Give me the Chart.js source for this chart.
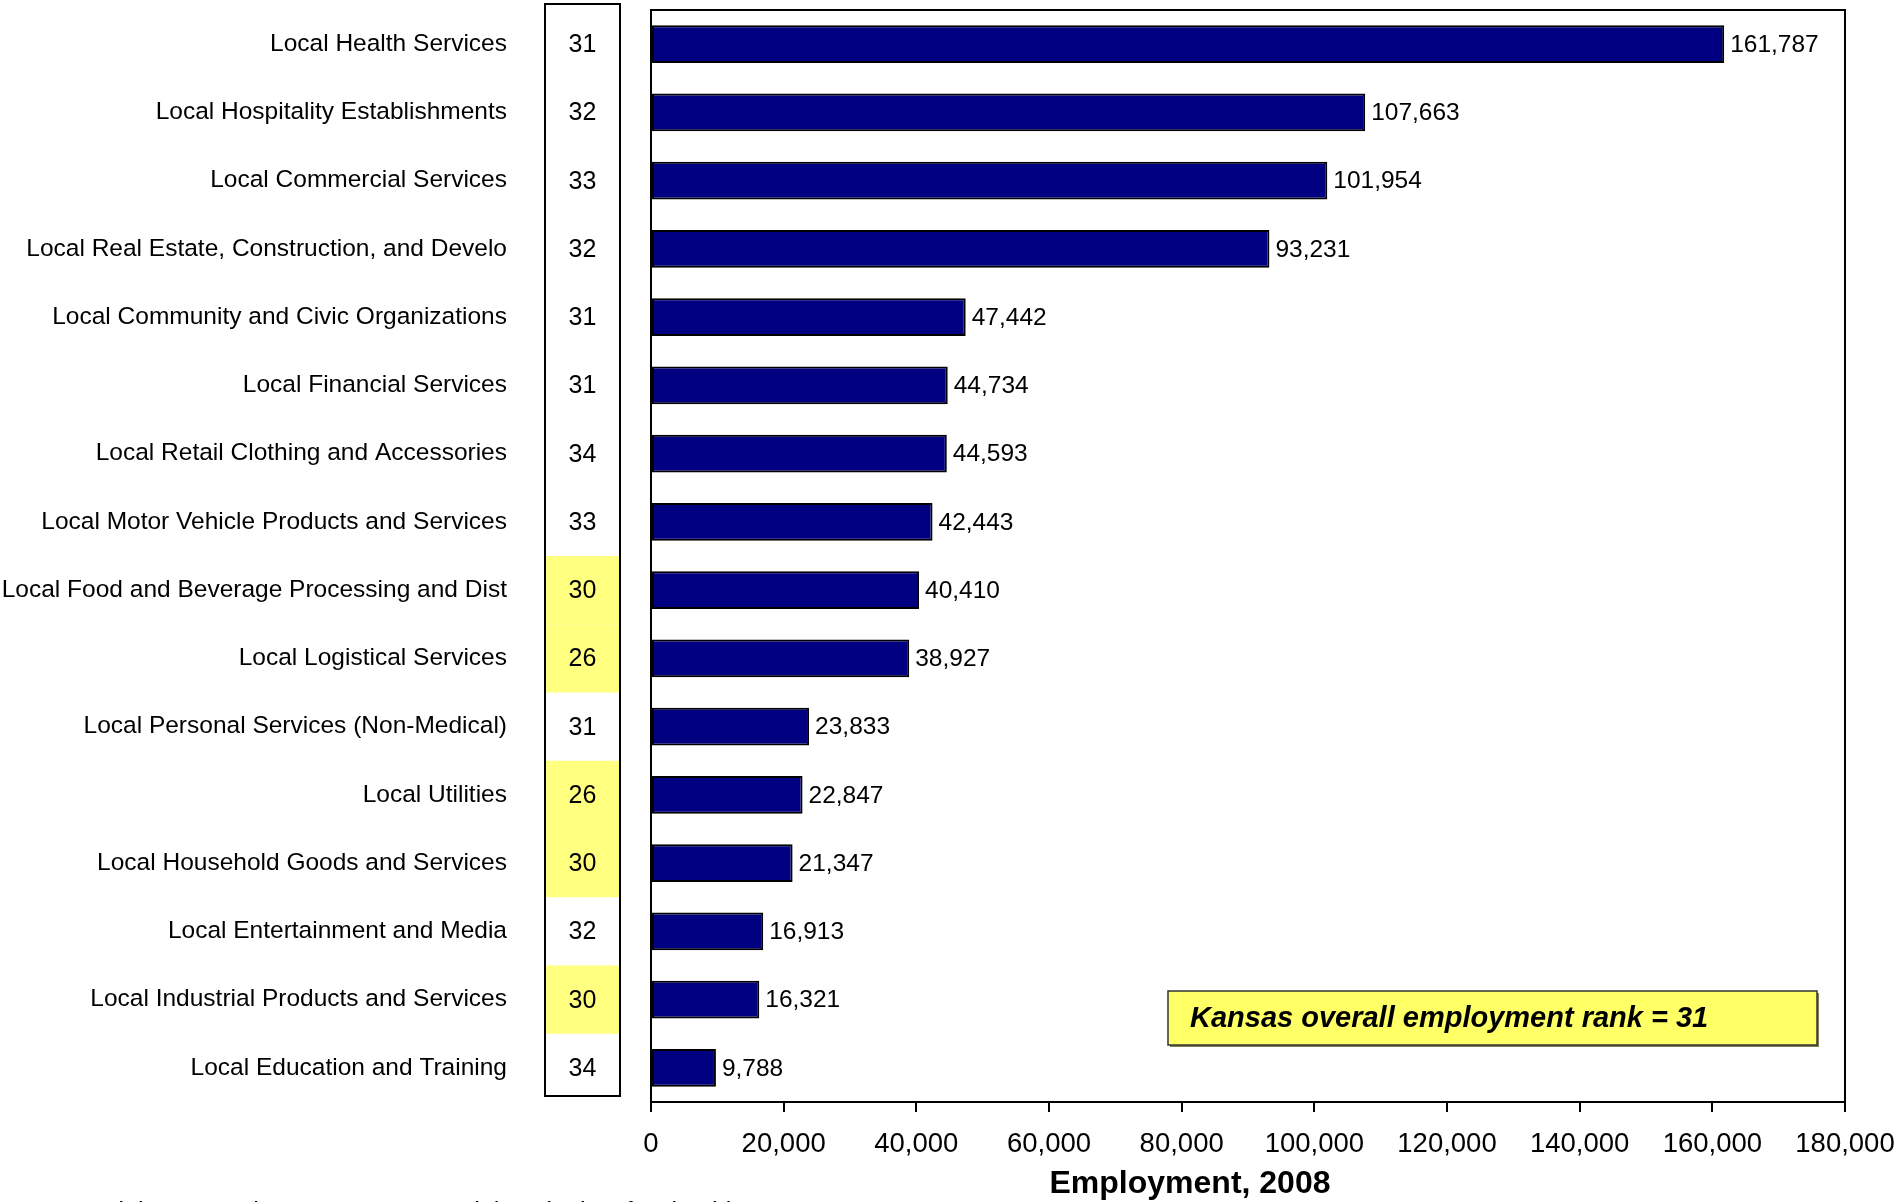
<!DOCTYPE html>
<html>
<head>
<meta charset="utf-8">
<title>Kansas local cluster employment, 2008</title>
<script src="https://cdn.jsdelivr.net/npm/chart.js@4.4.1/dist/chart.umd.min.js"></script>
<style>
  html, body { margin: 0; padding: 0; background: #fff; }
  #wrap { width: 1899px; height: 1202px; }
</style>
</head>
<body>
<div id="wrap"><canvas id="EmploymentChart"></canvas></div>
<script>
const categories = [
    'Local Health Services',
    'Local Hospitality Establishments',
    'Local Commercial Services',
    'Local Real Estate, Construction, and Develo',
    'Local Community and Civic Organizations',
    'Local Financial Services',
    'Local Retail Clothing and Accessories',
    'Local Motor Vehicle Products and Services',
    'Local Food and Beverage Processing and Dist',
    'Local Logistical Services',
    'Local Personal Services (Non-Medical)',
    'Local Utilities',
    'Local Household Goods and Services',
    'Local Entertainment and Media',
    'Local Industrial Products and Services',
    'Local Education and Training'
];
const employment = [161787, 107663, 101954, 93231, 47442, 44734, 44593, 42443,
    40410, 38927, 23833, 22847, 21347, 16913, 16321, 9788];
const ranks = [31, 32, 33, 32, 31, 31, 34, 33, 30, 26, 31, 26, 30, 32, 30, 34];
// rows whose rank cell is shaded yellow
const highlighted = [8, 9, 11, 12, 14];
const overallRank = 31;

const FONT = '"Liberation Sans", Arial, sans-serif';
const fmt = v => v.toLocaleString('en-US');

// rank column, plot border, value labels, notes
const extrasPlugin = {
    id: 'extras',
    afterDatasetsDraw(chart) {
        const ctx = chart.ctx;
        const area = chart.chartArea;
        const y = chart.scales.y;
        const x = chart.scales.x;
        const rowH = y.getPixelForValue(1) - y.getPixelForValue(0);

        ctx.save();
        // plot frame (top + right)
        ctx.strokeStyle = '#000';
        ctx.lineWidth = 2;
        ctx.strokeRect(area.left, area.top, area.right - area.left, area.bottom - area.top);

        // value labels
        ctx.fillStyle = '#000';
        ctx.font = '24.5px ' + FONT;
        ctx.textAlign = 'left';
        ctx.textBaseline = 'middle';
        employment.forEach((v, i) => {
            ctx.fillText(fmt(v), x.getPixelForValue(v) + 6, y.getPixelForValue(i) + 1);
        });

        // rank column
        const colL = 545, colR = 620;
        const colT = area.top - 6, colB = area.bottom - 6;
        ctx.fillStyle = '#ffff80';
        highlighted.forEach(i => {
            const c = y.getPixelForValue(i);
            ctx.fillRect(colL, c - rowH / 2, colR - colL, rowH);
        });
        ctx.strokeStyle = '#000';
        ctx.lineWidth = 2;
        ctx.strokeRect(colL, colT, colR - colL, colB - colT);
        ctx.fillStyle = '#000';
        ctx.font = '25px ' + FONT;
        ctx.textAlign = 'center';
        ranks.forEach((r, i) => {
            ctx.fillText(String(r), (colL + colR) / 2, y.getPixelForValue(i) + 1);
        });

        // overall rank box
        const bx = 1168, by = 991, bw = 649, bh = 54;
        ctx.fillStyle = '#7f7f55';
        ctx.fillRect(bx + 2, by + 2, bw, bh);
        ctx.fillStyle = '#ffff66';
        ctx.fillRect(bx, by, bw, bh);
        ctx.strokeStyle = '#333';
        ctx.lineWidth = 1.5;
        ctx.strokeRect(bx, by, bw, bh);
        ctx.fillStyle = '#000';
        ctx.font = 'italic bold 29px ' + FONT;
        ctx.textAlign = 'left';
        ctx.fillText('Kansas overall employment rank = ' + overallRank, bx + 22, by + bh / 2 + 1);

        // axis title
        ctx.font = 'bold 32px ' + FONT;
        ctx.textAlign = 'center';
        ctx.fillText('Employment, 2008', 1190, 1184);

        // footnote (cut off by the bottom edge)
        ctx.font = '25px ' + FONT;
        ctx.textAlign = 'left';
        ctx.textBaseline = 'alphabetic';
        ctx.fillText('Note: Rank is among the 50 US states and the District of Columbia', 6, 1220);
        ctx.restore();
    }
};

const ctxEmployment = document.getElementById('EmploymentChart');
const dataEmployment = {
    labels: categories,
    datasets: [{
        label: 'Employment, 2008',
        data: employment,
        backgroundColor: '#000080',
        borderColor: '#000',
        borderWidth: 2,
        borderSkipped: false,
        barPercentage: 0.555,
        categoryPercentage: 1
    }]
};
const configEmployment = {
    type: 'bar',
    data: dataEmployment,
    options: {
        indexAxis: 'y',
        responsive: true,
        maintainAspectRatio: false,
        animation: false,
        layout: { padding: { top: 10, right: 54, bottom: 0, left: 0 } },
        plugins: {
            legend: { display: false },
            tooltip: { enabled: false }
        },
        scales: {
            x: {
                min: 0,
                max: 180000,
                ticks: {
                    stepSize: 20000,
                    color: '#000',
                    font: { family: FONT, size: 27.5 },
                    padding: 16,
                    maxRotation: 0,
                    callback: v => fmt(v)
                },
                grid: {
                    drawOnChartArea: false,
                    drawTicks: true,
                    tickLength: 10,
                    color: '#000',
                    lineWidth: 2
                },
                border: { display: true, color: '#000', width: 2 },
                afterFit(scale) {
                    scale.height = 100;
                    scale.paddingRight = 0;
                }
            },
            y: {
                ticks: {
                    autoSkip: false,
                    color: '#000',
                    font: { family: FONT, size: 24.5 },
                    padding: 144
                },
                grid: { display: false, drawTicks: false },
                border: { display: true, color: '#000', width: 2 },
                afterFit(scale) {
                    scale.width = 651;
                    scale.paddingTop = 0;
                    scale.paddingBottom = 0;
                }
            }
        }
    },
    plugins: [extrasPlugin]
};
new Chart(ctxEmployment, configEmployment);
</script>
</body>
</html>
